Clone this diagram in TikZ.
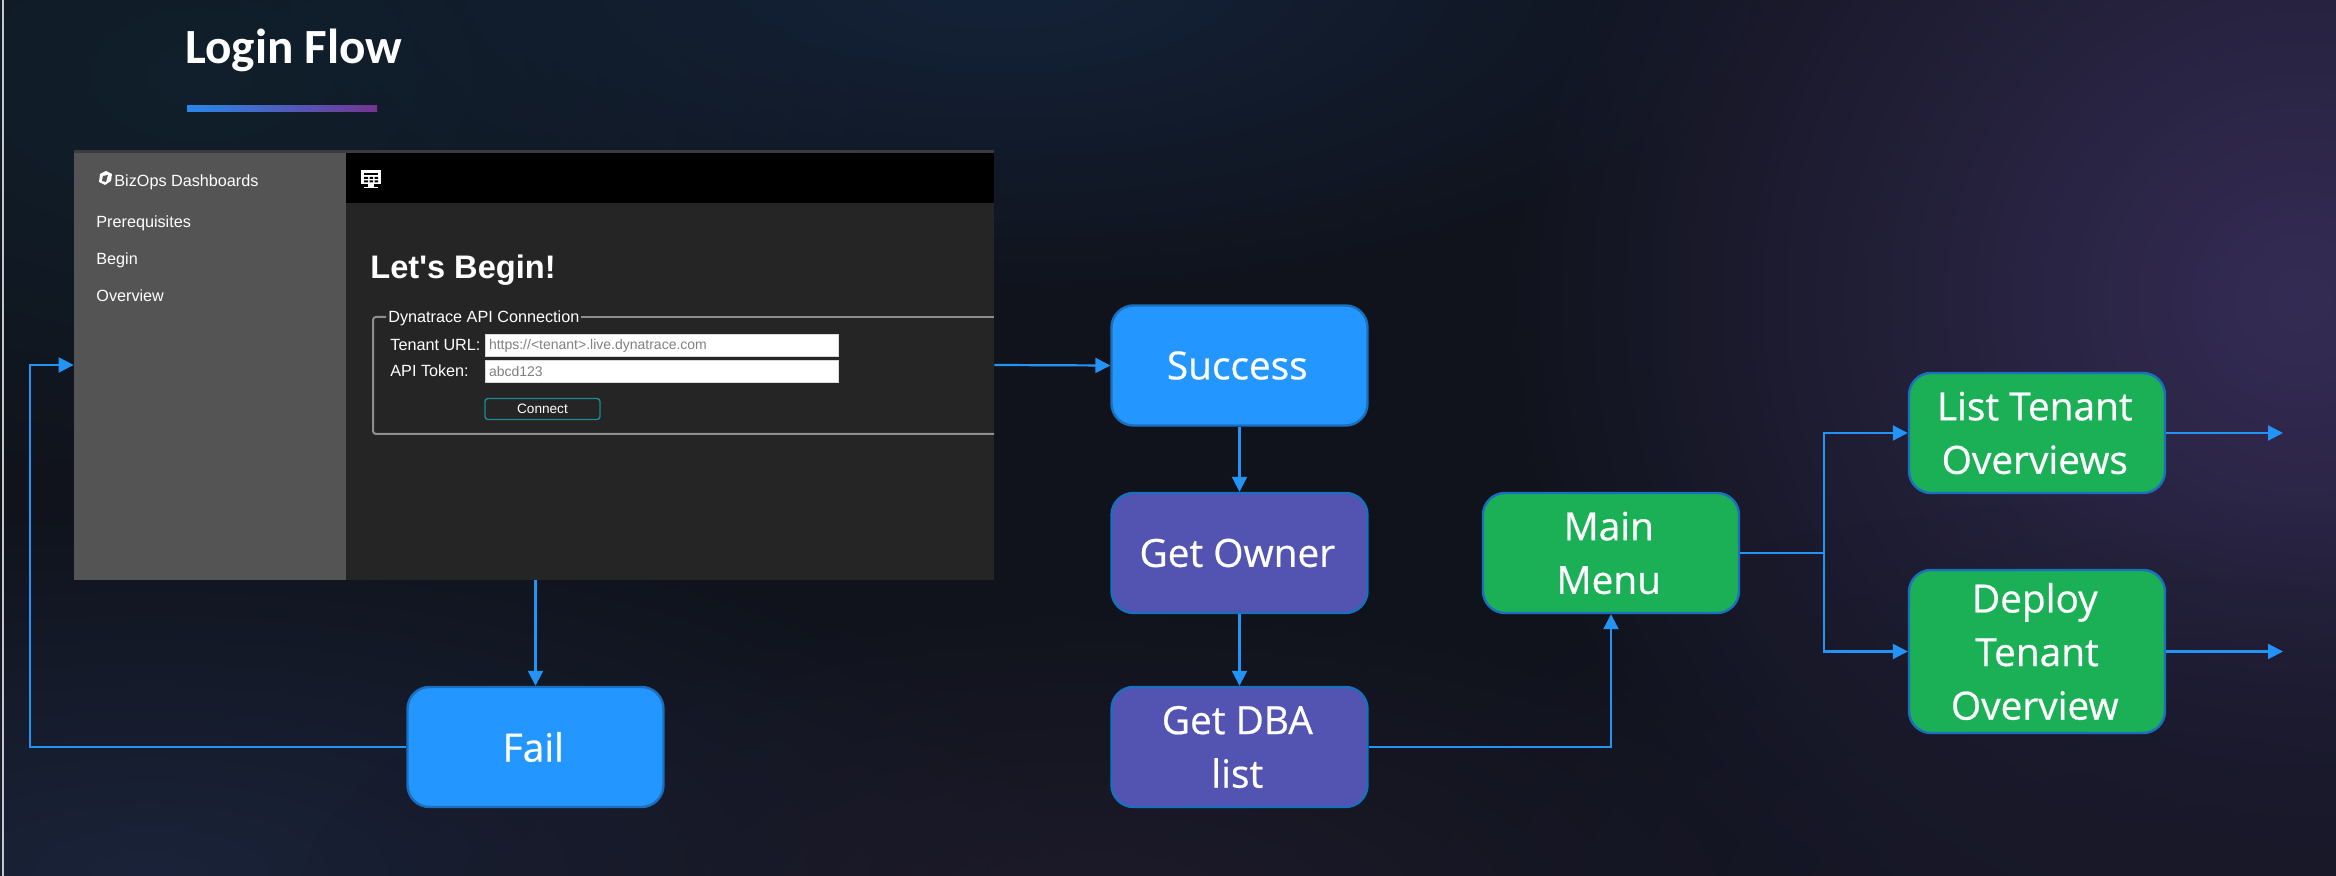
\documentclass[tikz,border=0pt]{standalone}
\usepackage{fontspec}
\setmainfont{Open Sans}
\newfontfamily\flowfont[FakeBold=0.6]{Open Sans}
\newfontfamily\titlefont{Carlito}
\newfontfamily\uifont{Liberation Sans}
\usetikzlibrary{arrows.meta,fadings,calc}
\tikzfading[name=glow, inner color=transparent!0, outer color=transparent!100]
\newcommand{\rl}[1]{#1\hspace*{2.2pt}}
\definecolor{bgbase}{HTML}{10131C}
\definecolor{glowa}{HTML}{10202C}
\definecolor{glowb}{HTML}{14233A}
\definecolor{glowc}{HTML}{1A2339}
\definecolor{glowd}{HTML}{1D1A2A}
\definecolor{glowe}{HTML}{352C55}
\definecolor{glowf}{HTML}{181829}
\definecolor{barleft}{HTML}{2987EB}
\definecolor{barright}{HTML}{743591}
\definecolor{flowline}{HTML}{2393F5}
\definecolor{nodeedge}{HTML}{1A6FBE}
\definecolor{bluefill}{HTML}{2397FF}
\definecolor{purplefill}{HTML}{5353B1}
\definecolor{greenfill}{HTML}{1BB056}
\definecolor{sidebar}{HTML}{545454}
\definecolor{panel}{HTML}{252525}
\definecolor{stripe}{HTML}{3C3C3C}
\definecolor{fieldline}{HTML}{8E8E8E}
\definecolor{placeholder}{HTML}{808080}
\definecolor{teal}{HTML}{1A8A94}
\tikzset{
  flowbox/.style={draw=nodeedge,line width=1.2pt,rounded corners=11pt,text=white,align=center,
    font=\flowfont\fontsize{19.4}{26.8}\selectfont,minimum width=128pt,inner sep=0pt},
  bluebox/.style={flowbox,fill=bluefill,minimum height=60pt},
  purplebox/.style={flowbox,fill=purplefill,minimum height=60pt},
  greenbox/.style={flowbox,fill=greenfill,minimum height=60pt},
  flow/.style={draw=flowline,line width=1.1pt,-{Triangle[length=7.5pt,width=7.5pt]}},
  flowplain/.style={draw=flowline,line width=1.1pt},
  uitext/.style={text=white,anchor=west,inner sep=0pt,font=\uifont\fontsize{8.1}{10}\selectfont},
  inputbox/.style={fill=white,draw=black!15,line width=.5pt,anchor=west,inner sep=0pt,text=placeholder,
    minimum height=11pt,minimum width=176.5pt,text width=173pt,font=\uifont\fontsize{7}{8}\selectfont},
  glowspot/.style={path fading=glow}
}
\begin{document}
\begin{tikzpicture}[x=0.5pt,y=-0.5pt]
\useasboundingbox (0,0) rectangle (2336,876);
\begin{scope}
\clip (0,0) rectangle (2336,876);
\fill[bgbase] (0,0) rectangle (2336,876);
\fill[glowspot,fill=glowa] (-500,-350) rectangle (900,500);
\fill[glowspot,fill=glowb] (200,-350) rectangle (1800,300);
\fill[glowspot,fill=glowc] (-800,500) rectangle (1100,1250);
\fill[glowspot,fill=glowd] (300,600) rectangle (1900,1200);
\fill[glowspot,fill=glowe] (1500,-500) rectangle (3100,1100);
\fill[glowspot,fill=glowf] (1300,500) rectangle (3000,1300);
\end{scope}
\fill[black!22!white] (1.5,0) rectangle (3.5,876);
% title
\node[anchor=west,text=white,inner sep=0pt,font=\titlefont\bfseries\fontsize{24.6}{28}\selectfont] (title) at (185,50) {Login Flow};
\shade[left color=barleft,right color=barright] (187,106) rectangle (377,112);
% screenshot
\node[fill=panel,minimum width=460pt,minimum height=215pt,inner sep=0pt] (shot) at (534,365) {};
\fill[sidebar] (shot.north west) rectangle (346,580);
\fill[stripe] (shot.north west) rectangle (994,153);
\fill[black] (346,153) rectangle (994,203);
\node[uitext] (brand) at (114,182) {BizOps Dashboards};
\fill[white] (100,174) -- (106,171) -- (112,174) -- (111,181) -- (105,185) -- (99,182) -- cycle;
\fill[sidebar] (103,176) -- (108,175) -- (106,182) -- (102,181) -- cycle;
\node[uitext] (prereq) at (96,223) {Prerequisites};
\node[uitext] (begin) at (96,260) {Begin};
\node[uitext] (overview) at (96,295.5) {Overview};
\fill[white] (361,170) rectangle (381,184);
\fill[white] (368,184) rectangle (374,187);
\fill[white] (364,187) rectangle (378,188.5);
\fill[black] (364,173) rectangle (378,175);
\fill[black] (364,177) rectangle (368,179) (369.5,177) rectangle (373,179) (374.5,177) rectangle (378,179);
\fill[black] (364,180.5) rectangle (368,182.5) (369.5,180.5) rectangle (373,182.5) (374.5,180.5) rectangle (378,182.5);
\node[uitext,font=\uifont\bfseries\fontsize{16.3}{18}\selectfont] (letsbegin) at (370,270) {Let's Begin!};
\draw[fieldline,line width=1pt,rounded corners=1.5pt] (386,317) -- (373,317) -- (373,434) -- (994,434);
\draw[fieldline,line width=1pt] (581,317) -- (994,317);
\node[uitext] (legend) at (388,318) {Dynatrace API Connection};
\node[uitext] (tenant) at (390,345) {Tenant URL:};
\node[uitext] (token) at (390,371) {API Token:};
\node[inputbox] (url) at (485,345.5) {https://<tenant>.live.dynatrace.com};
\node[inputbox] (tok) at (485,371.5) {abcd123};
\node[draw=teal,line width=.7pt,rounded corners=1.5pt,minimum width=57.5pt,minimum height=10.5pt,inner sep=0pt,text=white,font=\uifont\fontsize{6.8}{8}\selectfont] (connect) at (542.5,409) {Connect};
% flow boxes
\node[bluebox] (succ) at (1239.5,365.5) {\raisebox{-1.5pt}{\rl{Success}}};
\node[purplebox] (owner) at (1239.5,553) {\rl{Get Owner}};
\node[purplebox] (dba) at (1239.5,747) {\rl{Get DBA}\\\rl{list}};
\node[bluebox] (fail) at (535.5,747) {\rl{Fail}};
\node[greenbox] (menu) at (1611,553) {\rl{Main}\\\rl{Menu}};
\node[greenbox] (list) at (2037,433) {\rl{List Tenant}\\\rl{Overviews}};
\node[greenbox,minimum height=81.5pt] (deploy) at (2037,651.5) {\rl{Deploy}\\\rl{Tenant}\\\rl{Overview}};
\coordinate (loopc) at (30,747);
\coordinate (fork) at (1824,553);
\coordinate (listout) at (2283,433);
\coordinate (deployout) at (2283,651.5);
% connectors
\draw[flow] (shot.east) -- (succ.west);
\draw[flow] (shot.south -| fail.north) -- (fail.north);
\draw[flow] (fail.west) -- (loopc) |- (shot.west);
\draw[flow] (succ.south) -- (owner.north);
\draw[flow] (owner.south) -- (dba.north);
\draw[flow] (dba.east) -| (menu.south);
\draw[flowplain] (menu.east) -- (fork);
\draw[flow] (fork) |- (list.west);
\draw[flow] (fork) |- (deploy.west);
\draw[flow] (list.east) -- (listout);
\draw[flow] (deploy.east) -- (deployout);
\end{tikzpicture}
\end{document}
